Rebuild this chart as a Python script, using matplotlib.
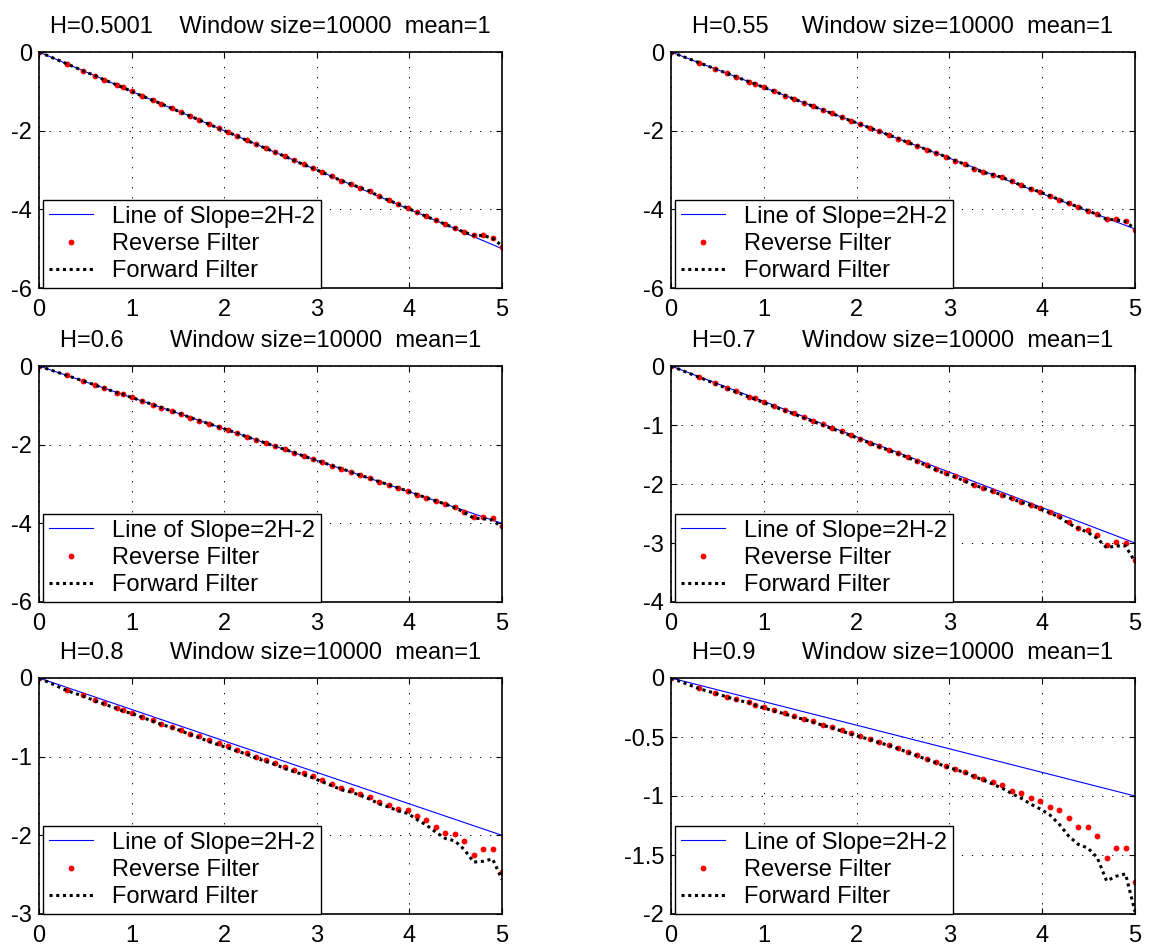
import matplotlib
matplotlib.use('Agg')
import matplotlib.pyplot as plt

plt.rcParams['font.family'] = ['Liberation Sans', 'DejaVu Sans']
plt.rcParams['axes.unicode_minus'] = False

# log10 of the lags (shared by all panels)
log_lag = [0.0, 0.301, 0.477, 0.602, 0.699, 0.845, 0.903, 1.0, 1.114, 1.230,
           1.322, 1.431, 1.531, 1.633, 1.732, 1.839, 1.940, 2.041, 2.143, 2.245,
           2.347, 2.449, 2.551, 2.653, 2.755, 2.857, 2.959, 3.061, 3.163, 3.265,
           3.367, 3.469, 3.571, 3.673, 3.776, 3.878, 3.980, 4.082, 4.184, 4.286,
           4.388, 4.490, 4.592, 4.694, 4.796, 4.898, 5.0]

titles = ['H=0.5001    Window size=10000  mean=1',
          'H=0.55     Window size=10000  mean=1',
          'H=0.6       Window size=10000  mean=1',
          'H=0.7       Window size=10000  mean=1',
          'H=0.8       Window size=10000  mean=1',
          'H=0.9       Window size=10000  mean=1']

# line of slope 2H-2, end points
line_x = [0, 5]
line_y = [[0, -4.9998], [0, -4.5], [0, -4.0], [0, -3.0], [0, -2.0], [0, -1.0]]

reverse = [
    [0, -0.30, -0.48, -0.60, -0.70, -0.84, -0.90, -1.00, -1.11, -1.23,
     -1.32, -1.43, -1.53, -1.63, -1.73, -1.84, -1.94, -2.04, -2.14, -2.24,
     -2.35, -2.45, -2.55, -2.65, -2.75, -2.85, -2.96, -3.06, -3.16, -3.27,
     -3.35, -3.45, -3.53, -3.66, -3.77, -3.87, -3.97, -4.08, -4.18, -4.28,
     -4.38, -4.48, -4.58, -4.65, -4.66, -4.72, -4.95],
    [0, -0.27, -0.43, -0.54, -0.63, -0.76, -0.81, -0.90, -1.00, -1.11,
     -1.19, -1.29, -1.38, -1.47, -1.56, -1.66, -1.75, -1.84, -1.93, -2.02,
     -2.11, -2.20, -2.30, -2.39, -2.48, -2.57, -2.66, -2.76, -2.85, -2.98,
     -3.06, -3.12, -3.18, -3.29, -3.39, -3.48, -3.56, -3.66, -3.75, -3.85,
     -3.94, -4.03, -4.12, -4.24, -4.24, -4.29, -4.52],
    [0, -0.24, -0.38, -0.48, -0.56, -0.68, -0.72, -0.80, -0.89, -0.98,
     -1.06, -1.14, -1.22, -1.31, -1.39, -1.47, -1.55, -1.63, -1.71, -1.80,
     -1.88, -1.96, -2.04, -2.12, -2.20, -2.29, -2.37, -2.45, -2.53, -2.61,
     -2.69, -2.78, -2.84, -2.94, -3.02, -3.10, -3.18, -3.27, -3.35, -3.43,
     -3.51, -3.59, -3.70, -3.84, -3.85, -3.87, -4.08],
    [0, -0.19, -0.29, -0.37, -0.43, -0.52, -0.55, -0.61, -0.68, -0.75,
     -0.80, -0.87, -0.93, -0.99, -1.05, -1.11, -1.17, -1.23, -1.30, -1.36,
     -1.42, -1.48, -1.54, -1.61, -1.68, -1.75, -1.82, -1.87, -1.94, -2.01,
     -2.06, -2.12, -2.18, -2.24, -2.30, -2.35, -2.41, -2.47, -2.54, -2.65,
     -2.74, -2.78, -2.86, -3.03, -2.98, -3.00, -3.28],
    [0, -0.15, -0.22, -0.28, -0.32, -0.38, -0.41, -0.44, -0.49, -0.54,
     -0.58, -0.62, -0.66, -0.71, -0.74, -0.79, -0.83, -0.87, -0.91, -0.95,
     -1.00, -1.04, -1.08, -1.13, -1.17, -1.21, -1.25, -1.30, -1.35, -1.40,
     -1.43, -1.47, -1.51, -1.57, -1.61, -1.66, -1.68, -1.76, -1.80, -1.89,
     -1.97, -1.98, -2.07, -2.25, -2.18, -2.18, -2.47],
    [0, -0.085, -0.127, -0.158, -0.18, -0.205, -0.226, -0.249, -0.275, -0.30,
     -0.325, -0.345, -0.367, -0.395, -0.415, -0.44, -0.47, -0.49, -0.515, -0.545,
     -0.565, -0.59, -0.627, -0.656, -0.684, -0.71, -0.745, -0.77, -0.80, -0.83,
     -0.855, -0.88, -0.91, -0.96, -0.975, -1.02, -1.04, -1.09, -1.12, -1.19,
     -1.26, -1.26, -1.34, -1.525, -1.44, -1.44, -1.73],
]

forward = [
    [0, -0.30, -0.48, -0.60, -0.70, -0.84, -0.90, -1.00, -1.12, -1.23,
     -1.32, -1.43, -1.53, -1.63, -1.73, -1.84, -1.94, -2.04, -2.14, -2.25,
     -2.35, -2.45, -2.55, -2.65, -2.76, -2.86, -2.96, -3.06, -3.17, -3.27,
     -3.36, -3.45, -3.54, -3.67, -3.77, -3.87, -3.97, -4.08, -4.18, -4.28,
     -4.38, -4.48, -4.58, -4.66, -4.67, -4.73, -4.93],
    [0, -0.27, -0.43, -0.54, -0.63, -0.76, -0.81, -0.90, -1.00, -1.11,
     -1.19, -1.29, -1.38, -1.47, -1.56, -1.66, -1.75, -1.84, -1.93, -2.02,
     -2.11, -2.20, -2.30, -2.39, -2.48, -2.57, -2.66, -2.76, -2.85, -2.97,
     -3.06, -3.12, -3.19, -3.29, -3.39, -3.48, -3.56, -3.66, -3.75, -3.85,
     -3.94, -4.03, -4.13, -4.25, -4.27, -4.31, -4.50],
    [0, -0.24, -0.38, -0.48, -0.56, -0.68, -0.72, -0.80, -0.89, -0.98,
     -1.06, -1.14, -1.22, -1.31, -1.39, -1.47, -1.55, -1.63, -1.71, -1.80,
     -1.88, -1.96, -2.04, -2.12, -2.20, -2.29, -2.37, -2.45, -2.53, -2.61,
     -2.69, -2.78, -2.85, -2.94, -3.02, -3.10, -3.18, -3.27, -3.35, -3.43,
     -3.51, -3.60, -3.72, -3.87, -3.88, -3.92, -4.10],
    [0, -0.19, -0.30, -0.38, -0.44, -0.53, -0.56, -0.62, -0.69, -0.76,
     -0.81, -0.88, -0.94, -1.00, -1.06, -1.12, -1.18, -1.24, -1.31, -1.37,
     -1.43, -1.49, -1.55, -1.62, -1.69, -1.76, -1.83, -1.88, -1.95, -2.02,
     -2.07, -2.13, -2.19, -2.25, -2.31, -2.36, -2.42, -2.49, -2.56, -2.67,
     -2.75, -2.82, -2.92, -3.08, -3.05, -3.05, -3.32],
    [0, -0.16, -0.23, -0.29, -0.33, -0.39, -0.42, -0.45, -0.50, -0.55,
     -0.59, -0.63, -0.67, -0.72, -0.76, -0.81, -0.85, -0.89, -0.93, -0.97,
     -1.02, -1.06, -1.10, -1.15, -1.19, -1.23, -1.27, -1.32, -1.37, -1.42,
     -1.45, -1.49, -1.54, -1.60, -1.64, -1.69, -1.72, -1.80, -1.87, -1.96,
     -2.04, -2.07, -2.18, -2.34, -2.33, -2.30, -2.56],
    [0, -0.09, -0.13, -0.16, -0.185, -0.21, -0.23, -0.255, -0.28, -0.305,
     -0.33, -0.35, -0.375, -0.40, -0.42, -0.45, -0.475, -0.50, -0.52, -0.55,
     -0.57, -0.60, -0.63, -0.66, -0.69, -0.72, -0.75, -0.775, -0.80, -0.835,
     -0.865, -0.90, -0.935, -0.98, -1.02, -1.07, -1.11, -1.16, -1.24, -1.34,
     -1.41, -1.44, -1.52, -1.72, -1.68, -1.66, -1.98],
]

x_ticks = [0, 1, 2, 3, 4, 5]
x_ticklabels = ['0', '1', '2', '3', '4', '5']
y_ticks = [[0, -2, -4, -6], [0, -2, -4, -6], [0, -2, -4, -6],
           [0, -1, -2, -3, -4], [0, -1, -2, -3], [0, -0.5, -1, -1.5, -2]]
y_ticklabels = [['0', '-2', '-4', '-6'], ['0', '-2', '-4', '-6'],
                ['0', '-2', '-4', '-6'], ['0', '-1', '-2', '-3', '-4'],
                ['0', '-1', '-2', '-3'], ['0', '-0.5', '-1', '-1.5', '-2']]

W, H = 1150, 949
fig = plt.figure(figsize=(W / 100, H / 100), dpi=100)

col_left = [39, 671]
col_width = [463, 464]
row_top = [52, 366, 678]
ax_h = 236
fs = 17

for i in range(6):
    r, c = i // 2, i % 2
    ax = fig.add_axes([col_left[c] / W, 1 - (row_top[r] + ax_h) / H,
                       col_width[c] / W, ax_h / H])
    ax.plot(line_x, line_y[i], color='blue', lw=0.8, label='Line of Slope=2H-2')
    ax.plot(log_lag, reverse[i], 'o', color='red', ms=4.2, mec='none',
            label='Reverse Filter')
    ax.plot(log_lag, forward[i], color='black', lw=2.2, ls=(0, (1, 1.2)),
            label='Forward Filter')
    ax.set_xlim(0, 5)
    ax.set_ylim(y_ticks[i][-1], 0)
    ax.set_xticks(x_ticks)
    ax.set_xticklabels(x_ticklabels)
    ax.set_yticks(y_ticks[i])
    ax.set_yticklabels(y_ticklabels[i])
    ax.tick_params(direction='in', length=4, width=0.8, labelsize=fs,
                   top=True, right=True, colors='black')
    ax.tick_params(axis='x', pad=8)
    ax.tick_params(axis='y', pad=5)
    ax.grid(True, color='black', lw=0.7, ls=(0, (1.3, 9)))
    for s in ax.spines.values():
        s.set_linewidth(1.2)
    ax.set_title(titles[i], fontsize=fs, pad=14)
    leg = ax.legend(loc='lower left', bbox_to_anchor=(0.008, 0.0),
                    borderaxespad=0, fancybox=False, edgecolor='black',
                    framealpha=1, fontsize=fs, handlelength=1.9,
                    handletextpad=0.8, labelspacing=0.22, borderpad=0.25)
    leg.get_frame().set_linewidth(1.0)

fig.savefig('out.png', dpi=100)
